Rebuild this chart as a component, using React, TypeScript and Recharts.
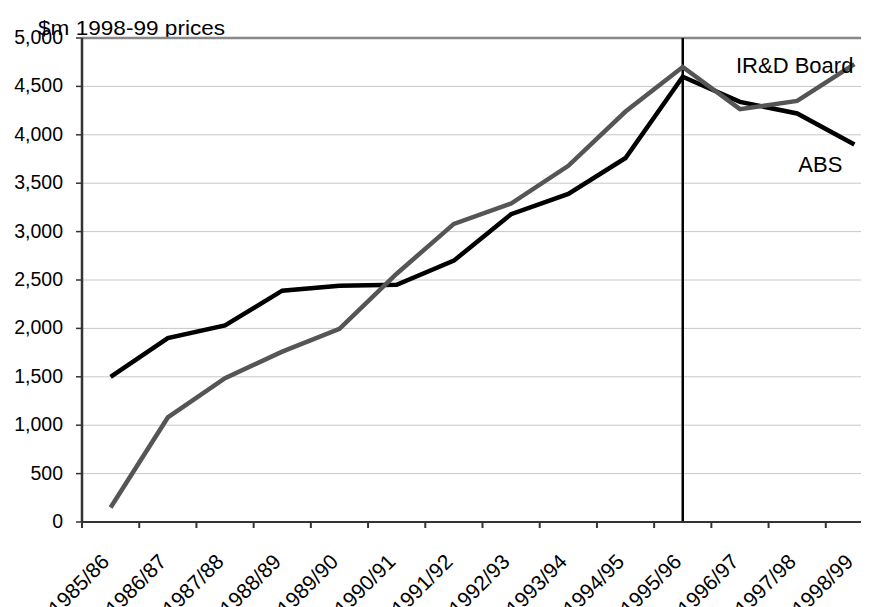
import React from 'react';
import {
  LineChart,
  Line,
  XAxis,
  YAxis,
  CartesianGrid,
  ReferenceLine,
  ReferenceDot,
} from 'recharts';

const years = [
  '1985/86', '1986/87', '1987/88', '1988/89', '1989/90', '1990/91', '1991/92',
  '1992/93', '1993/94', '1994/95', '1995/96', '1996/97', '1997/98', '1998/99',
];

// ABS series, $m 1998-99 prices
const absValues = [1500, 1900, 2030, 2390, 2440, 2450, 2700, 3180, 3390, 3760, 4600, 4340, 4220, 3900];

// IR&D Board series
const irdValues = [150, 1080, 1485, 1760, 1995, 2565, 3080, 3290, 3680, 4240, 4700, 4265, 4350, 4730];

const yTicks = [0, 500, 1000, 1500, 2000, 2500, 3000, 3500, 4000, 4500, 5000];

const data = years.map((year, i) => ({
  year,
  abs: absValues[i],
  ird: irdValues[i],
}));

const FONT = '"Liberation Sans", Arial, sans-serif';
const WIDTH = 880;
const Y_AXIS_W = 74;
const MARGIN_RIGHT = 5;
const band = (WIDTH - Y_AXIS_W - MARGIN_RIGHT) / years.length;

const XTick = (props: any) => {
  const { x, y, payload } = props;
  const left = x - band / 2;
  return (
    <g>
      <line x1={left} y1={y} x2={left} y2={y + 6} stroke="#333" strokeWidth={2} />
      <text
        transform={`translate(${x},${y + 41}) rotate(-45)`}
        textAnchor="end"
        fontFamily={FONT}
        fontSize={21}
        fill="#000"
      >
        {payload.value}
      </text>
    </g>
  );
};

const YTick = (props: any) => {
  const { x, y, payload } = props;
  return (
    <g>
      <line x1={x - 6} y1={y} x2={x} y2={y} stroke="#333" strokeWidth={1.5} />
      <text
        x={x - 19}
        y={y + 6}
        textAnchor="end"
        fontFamily={FONT}
        fontSize={19.5}
        fill="#000"
      >
        {payload.value.toLocaleString('en-US')}
      </text>
    </g>
  );
};

const annotation = (text: string, dx: number, dy: number) => (props: any) => {
  const { viewBox } = props;
  const cx = viewBox.x + viewBox.width / 2;
  const cy = viewBox.y + viewBox.height / 2;
  return (
    <text x={cx + dx} y={cy + dy} textAnchor="end" fontFamily={FONT} fontSize={22} fill="#000">
      {text}
    </text>
  );
};

const App: React.FC = () => {
  return (
    <div style={{ width: 861, height: 599, overflow: 'hidden' }}>
      <LineChart
        width={WIDTH}
        height={599}
        data={data}
        margin={{ top: 30, right: MARGIN_RIGHT, bottom: 0, left: 0 }}
      >
        <text x={30} y={27} fontFamily={FONT} fontSize={20} fill="#000" transform="translate(30,0) scale(1.13,1) translate(-30,0)">
          $m 1998-99 prices
        </text>
        <CartesianGrid vertical={false} stroke="#c8c8c8" strokeWidth={1} />
        <XAxis
          dataKey="year"
          interval={0}
          height={85}
          padding={{ left: band / 2, right: band / 2 }}
          tickLine={false}
          tickSize={0}
          tickMargin={0}
          axisLine={{ stroke: '#333', strokeWidth: 2 }}
          tick={<XTick />}
        />
        <YAxis
          width={Y_AXIS_W}
          domain={[0, 5000]}
          ticks={yTicks}
          interval={0}
          tickLine={false}
          tickSize={0}
          tickMargin={0}
          axisLine={{ stroke: '#333', strokeWidth: 2.5 }}
          tick={<YTick />}
        />
        <ReferenceLine y={5000} stroke="#888" strokeWidth={2.5} />
        <ReferenceLine x="1995/96" stroke="#000" strokeWidth={2.5} />
        <Line
          dataKey="abs"
          stroke="#000"
          strokeWidth={4.5}
          dot={false}
          isAnimationActive={false}
        />
        <Line
          dataKey="ird"
          stroke="#555"
          strokeWidth={4.5}
          dot={false}
          isAnimationActive={false}
        />
        <ReferenceDot
          x="1998/99"
          y={4640}
          r={0}
          stroke="none"
          fill="none"
          label={annotation('IR&D Board', -1, 0)}
        />
        <ReferenceDot
          x="1998/99"
          y={3615}
          r={0}
          stroke="none"
          fill="none"
          label={annotation('ABS', -12, 0)}
        />
      </LineChart>
    </div>
  );
};

export default App;
